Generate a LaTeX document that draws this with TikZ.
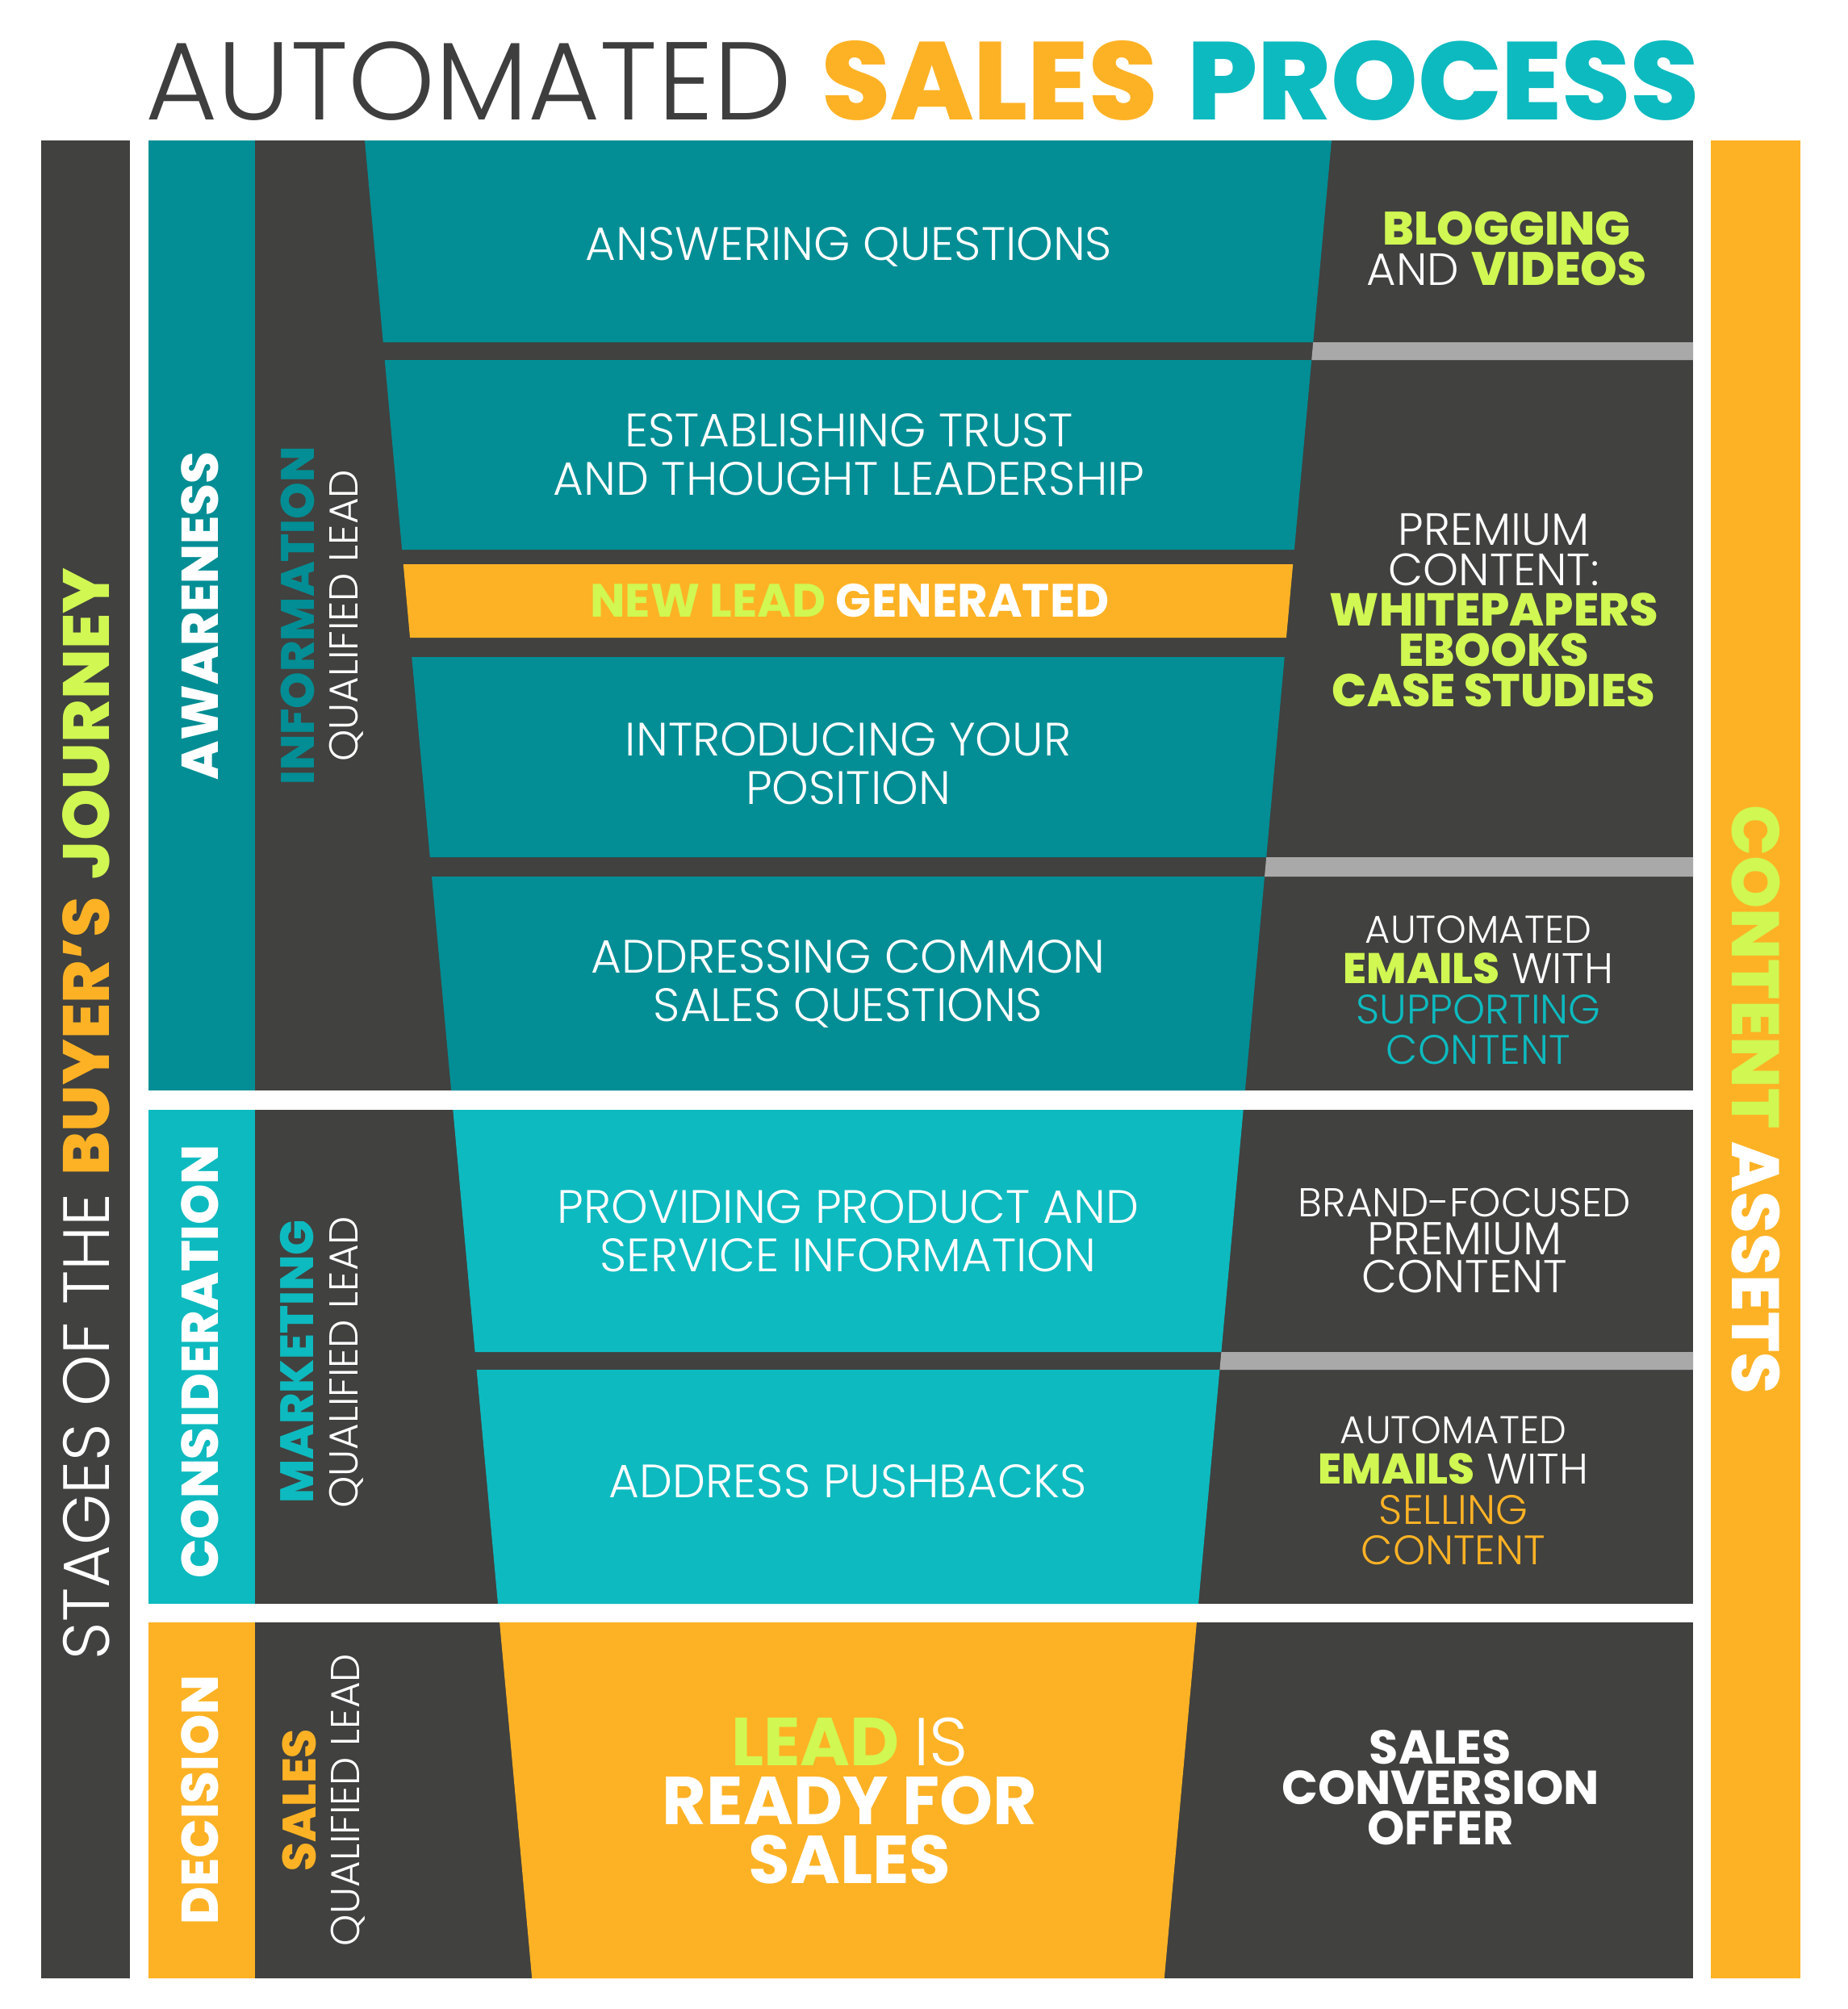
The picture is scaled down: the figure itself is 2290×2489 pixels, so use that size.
\documentclass[tikz,border=0pt]{standalone}
\usepackage{fontspec}
\newfontfamily\plt{Poppins Light}
\newfontfamily\pbd{Poppins ExtraBold}
\newfontfamily\pbo{Poppins Bold}
\newcommand\fsz[2]{\fontsize{#1}{#2}\selectfont}
\definecolor{dk}{HTML}{41413F}
\definecolor{tl}{HTML}{028E94}
\definecolor{lt}{HTML}{0DBABF}
\definecolor{og}{HTML}{FDB225}
\definecolor{lm}{HTML}{D0F752}
\definecolor{gy}{HTML}{A9A9A9}
\definecolor{tt}{HTML}{3E3E3E}
% funnel edges: xL = 452 + 0.091 (y-174), xR = 1650 - 0.091 (y-174)
\newcommand\funrow[3]{%
  \pgfmathsetmacro\fLa{452+0.091*(#1-174)}%
  \pgfmathsetmacro\fRa{1650-0.091*(#1-174)}%
  \pgfmathsetmacro\fLb{452+0.091*(#2-174)}%
  \pgfmathsetmacro\fRb{1650-0.091*(#2-174)}%
  \fill[#3] (\fLa,#1) -- (\fRa,#1) -- (\fRb,#2) -- (\fLb,#2) -- cycle;}
\newcommand\sepbar[2]{%
  \pgfmathsetmacro\fRa{1650-0.091*(#1-174)}%
  \pgfmathsetmacro\fRb{1650-0.091*(#2-174)}%
  \fill[gy] (\fRa,#1) -- (2098,#1) -- (2098,#2) -- (\fRb,#2) -- cycle;}
\tikzset{
  ctr/.style={inner sep=0pt, align=center, text=white, font=\plt\fsz{58}{60}},
  vlab/.style={inner sep=0pt, rotate=90, anchor=base, text=white},
}
\begin{document}
\begin{tikzpicture}[x=1pt,y=-1pt]
\useasboundingbox (0,0) rectangle (2290,2489);
\fill[white] (0,0) rectangle (2290,2489);
% title
\node[inner sep=0pt, anchor=base, font=\plt\fsz{137}{140}] (title) at (1143,148)
  {{\color{tt}AUTOMATED} {\pbd\color{og}SALES} {\pbd\color{lt}PROCESS}};
% side bars
\fill[dk] (51,174) rectangle (161,2451);
\fill[og] (2120,174) rectangle (2231,2451);
% stage bars
\fill[tl] (184,174) rectangle (316,1351);
\fill[lt] (184,1375) rectangle (316,1987);
\fill[og] (184,2010) rectangle (316,2451);
% dark blocks
\fill[dk] (316,174) rectangle (2098,1351);
\fill[dk] (316,1375) rectangle (2098,1987);
\fill[dk] (316,2010) rectangle (2098,2451);
% funnel rows
\funrow{174}{424}{tl}
\funrow{446}{681}{tl}
\funrow{699}{790}{og}
\funrow{814}{1062}{tl}
\funrow{1086}{1351}{tl}
\funrow{1375}{1675}{lt}
\funrow{1697}{1987}{lt}
\funrow{2010}{2451}{og}
% separators
\sepbar{424}{446}
\sepbar{1062}{1086}
\sepbar{1675}{1697}
% side labels
\node[vlab, font=\plt\fsz{81}{81}] (stages) at (135,1380)
  {STAGES OF THE {\pbd\color{og}BUYER’S} {\pbd\color{lm}JOURNEY}};
\node[inner sep=0pt, rotate=-90, anchor=base, text=white, font=\pbd\fsz{83}{83}] (assets) at (2146,1362)
  {{\color{lm}CONTENT} ASSETS};
% stage labels
\node[vlab, font=\pbd\fsz{64}{64}] (aw) at (270,763) {AWARENESS};
\node[vlab, font=\pbd\fsz{58}{58}, text=tl] (info) at (389,763) {INFORMATION};
\node[vlab, font=\plt\fsz{50}{50}] (q1) at (443,763) {QUALIFIED LEAD};
\node[vlab, font=\pbd\fsz{64}{64}] (cons) at (270,1687) {CONSIDERATION};
\node[vlab, font=\pbd\fsz{58}{58}, text=lt] (mkt) at (388,1687) {MARKETING};
\node[vlab, font=\plt\fsz{50}{50}] (q2) at (443,1688) {QUALIFIED LEAD};
\node[vlab, font=\pbd\fsz{64}{64}] (dec) at (270,2230) {DECISION};
\node[vlab, font=\pbd\fsz{58}{58}, text=og] (sal) at (391,2230) {SALES};
\node[vlab, font=\plt\fsz{50}{50}] (q3) at (445,2230) {QUALIFIED LEAD};
% funnel texts
\node[ctr] (r1) at (1052,306) {ANSWERING QUESTIONS};
\node[ctr] (r2) at (1052,563) {ESTABLISHING TRUST\\AND THOUGHT LEADERSHIP};
\node[ctr, font=\pbo\fsz{58}{60}] (nl) at (1053,744) {{\color{lm}NEW LEAD} GENERATED};
\node[ctr] (r3) at (1051,946) {INTRODUCING YOUR\\POSITION};
\node[ctr] (r4) at (1051,1219) {ADDRESSING COMMON\\SALES QUESTIONS};
\node[ctr] (r5) at (1051,1525) {PROVIDING PRODUCT AND\\SERVICE INFORMATION};
\node[ctr] (r6) at (1051,1835) {ADDRESS PUSHBACKS};
\node[ctr, font=\pbo\fsz{84}{73}] (r7) at (1053,2231) {{\color{lm}LEAD} {\plt IS}\\READY FOR\\SALES};
% right column texts
\node[ctr, font=\plt\fsz{56}{50}] (c1) at (1867,308) {{\pbd\fsz{58}{50}\color{lm}BLOGGING}\\AND {\pbd\fsz{58}{50}\color{lm}VIDEOS}};
\node[ctr, font=\plt\fsz{56}{50}] (c2) at (1851,756)
  {PREMIUM\\CONTENT:\\{\pbd\fsz{57}{50}\color{lm}WHITEPAPERS}\\{\pbd\fsz{57}{50}\color{lm}EBOOKS}\\{\pbd\fsz{57}{50}\color{lm}CASE STUDIES}};
\node[ctr, font=\plt\fsz{53}{50}] (c3) at (1832,1227)
  {{\fsz{48}{50}AUTOMATED}\\{\pbd\color{lm}EMAILS} WITH\\{\fsz{51}{50}\color{lt}SUPPORTING}\\{\fsz{51}{50}\color{lt}CONTENT}};
\node[ctr, font=\plt\fsz{57}{47}] (c4) at (1815,1537)
  {{\fsz{50}{47}BRAND-FOCUSED}\\PREMIUM\\CONTENT};
\node[ctr, font=\plt\fsz{53}{50}] (c5) at (1801,1847)
  {{\fsz{48}{50}AUTOMATED}\\{\pbd\color{lm}EMAILS} WITH\\{\fsz{51}{50}\color{og}SELLING}\\{\fsz{51}{50}\color{og}CONTENT}};
\node[ctr, font=\pbo\fsz{59}{50}] (c6) at (1785,2215) {SALES\\CONVERSION\\OFFER};
\end{tikzpicture}
\end{document}
